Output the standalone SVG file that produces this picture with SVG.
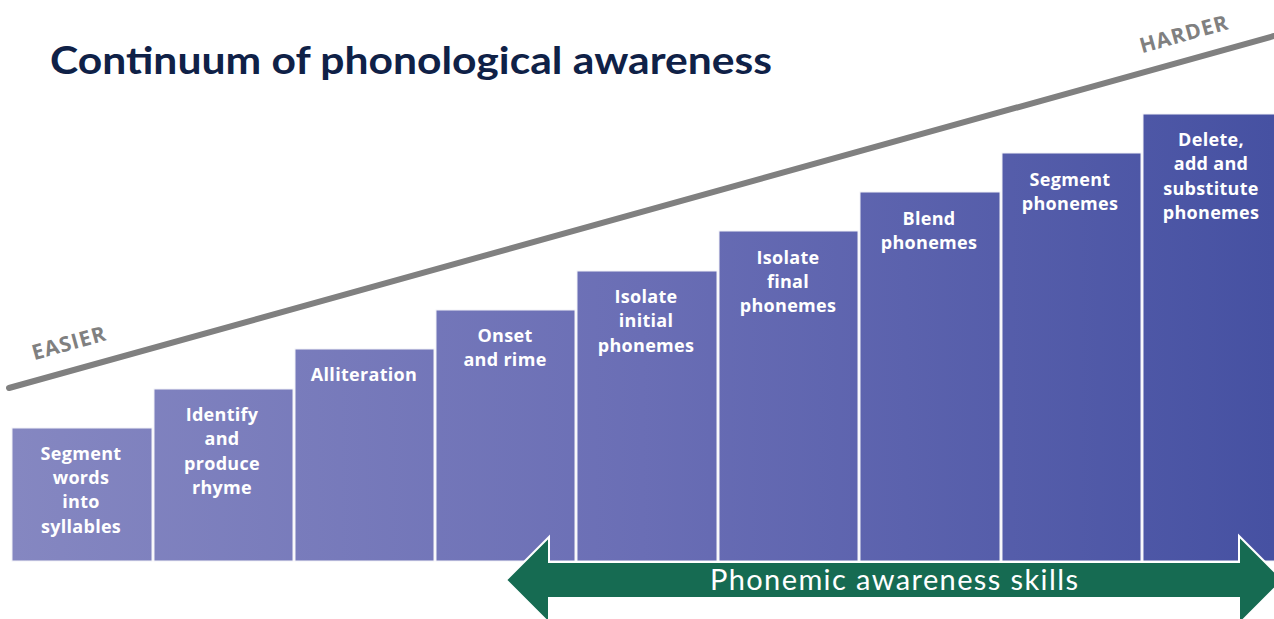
<svg xmlns="http://www.w3.org/2000/svg" width="1274" height="619" viewBox="0 0 1274 619">
<defs>
<linearGradient id="barGrad" gradientUnits="userSpaceOnUse" x1="12" y1="0" x2="1274" y2="0">
<stop offset="0" stop-color="#8587c1"/>
<stop offset="0.5" stop-color="#6a6eb5"/>
<stop offset="1" stop-color="#4651a2"/>
</linearGradient>
<style>
.bar{fill:url(#barGrad);stroke:#f2f2f7;stroke-width:1}
.lbl{font-family:"Open Sans","Liberation Sans",sans-serif;font-weight:bold;font-size:18px;fill:#ffffff;text-anchor:middle;letter-spacing:0.3px}
.scale{font-family:"Open Sans","Liberation Sans",sans-serif;font-weight:bold;font-size:21px;fill:#808080;text-anchor:middle;letter-spacing:1px}
</style>
</defs>
<rect width="1274" height="619" fill="#ffffff"/>
<text x="50" y="74" font-family="Lato,'Liberation Sans',sans-serif" font-weight="bold" font-size="38" fill="#0f2147" textLength="722" lengthAdjust="spacingAndGlyphs">Continuum of phonological awareness</text>
<g id="scale-line">
<line x1="9" y1="388" x2="1274" y2="36" stroke="#808080" stroke-width="6" stroke-linecap="round"/>
<text class="scale" transform="translate(71,350) rotate(-15.6)">EASIER</text>
<text class="scale" transform="translate(1186,41) rotate(-15.6)">HARDER</text>
</g>
<g id="bar1"><rect class="bar" x="12" y="428" width="140" height="133"/>
<text class="lbl" x="81" y="460">Segment</text><text class="lbl" x="81" y="484">words</text><text class="lbl" x="81" y="508">into</text><text class="lbl" x="81" y="533">syllables</text></g>
<g id="bar2"><rect class="bar" x="154" y="389" width="139" height="172"/>
<text class="lbl" x="222" y="421">Identify</text><text class="lbl" x="222" y="445">and</text><text class="lbl" x="222" y="470">produce</text><text class="lbl" x="222" y="494">rhyme</text></g>
<g id="bar3"><rect class="bar" x="295" y="349" width="139" height="212"/>
<text class="lbl" x="364" y="381">Alliteration</text></g>
<g id="bar4"><rect class="bar" x="436" y="310" width="139" height="251"/>
<text class="lbl" x="505" y="342">Onset</text><text class="lbl" x="505" y="366">and rime</text></g>
<g id="bar5"><rect class="bar" x="577" y="271" width="140" height="290"/>
<text class="lbl" x="646" y="303">Isolate</text><text class="lbl" x="646" y="327">initial</text><text class="lbl" x="646" y="352">phonemes</text></g>
<g id="bar6"><rect class="bar" x="719" y="231" width="139" height="330"/>
<text class="lbl" x="788" y="264">Isolate</text><text class="lbl" x="788" y="288">final</text><text class="lbl" x="788" y="312">phonemes</text></g>
<g id="bar7"><rect class="bar" x="860" y="192" width="140" height="369"/>
<text class="lbl" x="929" y="225">Blend</text><text class="lbl" x="929" y="249">phonemes</text></g>
<g id="bar8"><rect class="bar" x="1002" y="153" width="139" height="408"/>
<text class="lbl" x="1070" y="186">Segment</text><text class="lbl" x="1070" y="210">phonemes</text></g>
<g id="bar9"><rect class="bar" x="1143" y="114" width="135" height="447"/>
<text class="lbl" x="1211" y="146">Delete,</text><text class="lbl" x="1211" y="170">add and</text><text class="lbl" x="1211" y="195">substitute</text><text class="lbl" x="1211" y="219">phonemes</text></g>
<g id="connectors">
<polygon points="506,580 549,537 549,562 1239,562 1239,536 1283,580 1239,624 1239,598 549,598 549,623" fill="#166b52" stroke="#ffffff" stroke-width="2" stroke-linejoin="miter"/>
</g>
<g id="phonemic-label">
<text x="894" y="590" font-family="Lato,'Liberation Sans',sans-serif" font-size="29" fill="#ffffff" text-anchor="middle" textLength="368" lengthAdjust="spacing">Phonemic awareness skills</text>
</g>
</svg>
